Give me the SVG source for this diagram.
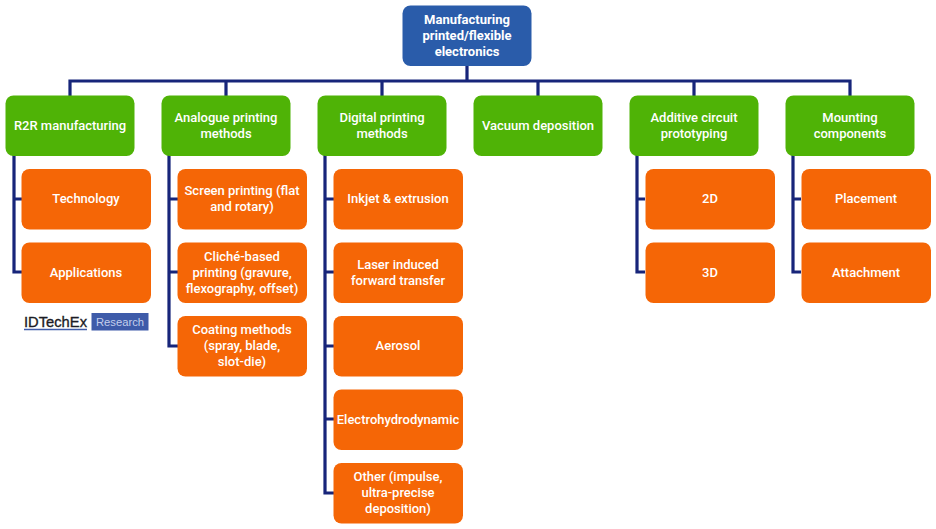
<svg xmlns="http://www.w3.org/2000/svg" width="936" height="529" viewBox="0 0 936 529">
<style>
.t{font-family:Roboto,"Liberation Sans",sans-serif;font-size:13px;font-weight:500;fill:#fff;text-anchor:middle}
.top rect{fill:#2a5caa}.top text{font-weight:700;font-size:13px}
.g rect{fill:#4fb306}.o rect{fill:#f56606}
#connectors path{fill:none;stroke:#17257a;stroke-width:3.200}
</style>
<rect width="936" height="529" fill="#fff"/>
<g id="connectors">
<path d="M467 65V81M70 96V81H850V96M226 81V96M382 81V96M538 81V96M694 81V96"/>
<path d="M14 155V272H22M14 199H22"/>
<path d="M169 155V346H178M169 199H178M169 272H178"/>
<path d="M325 155V493H334M325 199H334M325 272H334M325 346H334M325 419H334"/>
<path d="M637 155V272H645M637 199H645"/>
<path d="M793 155V272H801M793 199H801"/>
</g>
<g id="root" class="top"><rect x="402.500" y="5.500" width="129" height="60.500" rx="8"/><text class="t" x="467" y="24">Manufacturing</text><text class="t" x="467" y="40">printed/flexible</text><text class="t" x="467" y="56">electronics</text></g>
<g id="r2r" class="g"><rect x="5.500" y="95.500" width="129" height="60.500" rx="8"/><text class="t" x="70" y="130">R2R manufacturing</text></g>
<g id="analogue" class="g"><rect x="161.500" y="95.500" width="129" height="60.500" rx="8"/><text class="t" x="226" y="122">Analogue printing</text><text class="t" x="226" y="138">methods</text></g>
<g id="digital" class="g"><rect x="317.500" y="95.500" width="129" height="60.500" rx="8"/><text class="t" x="382" y="122">Digital printing</text><text class="t" x="382" y="138">methods</text></g>
<g id="vacuum" class="g"><rect x="473.500" y="95.500" width="129" height="60.500" rx="8"/><text class="t" x="538" y="130">Vacuum deposition</text></g>
<g id="additive" class="g"><rect x="629.500" y="95.500" width="129" height="60.500" rx="8"/><text class="t" x="694" y="122">Additive circuit</text><text class="t" x="694" y="138">prototyping</text></g>
<g id="mounting" class="g"><rect x="785.500" y="95.500" width="129" height="60.500" rx="8"/><text class="t" x="850" y="122">Mounting</text><text class="t" x="850" y="138">components</text></g>
<g id="technology" class="o"><rect x="21.500" y="169" width="129.500" height="60.500" rx="8"/><text class="t" x="86" y="203">Technology</text></g>
<g id="applications" class="o"><rect x="21.500" y="242.500" width="129.500" height="60.500" rx="8"/><text class="t" x="86" y="276.500">Applications</text></g>
<g id="screen" class="o"><rect x="177.500" y="169" width="129.500" height="60.500" rx="8"/><text class="t" x="242" y="195">Screen printing (flat</text><text class="t" x="242" y="211">and rotary)</text></g>
<g id="cliche" class="o"><rect x="177.500" y="242.500" width="129.500" height="60.500" rx="8"/><text class="t" x="242" y="260.500">Cliché-based</text><text class="t" x="242" y="276.500">printing (gravure,</text><text class="t" x="242" y="292.500">flexography, offset)</text></g>
<g id="coating" class="o"><rect x="177.500" y="316" width="129.500" height="60.500" rx="8"/><text class="t" x="242" y="334">Coating methods</text><text class="t" x="242" y="350">(spray, blade,</text><text class="t" x="242" y="366">slot-die)</text></g>
<g id="inkjet" class="o"><rect x="333.500" y="169" width="129.500" height="60.500" rx="8"/><text class="t" x="398" y="203">Inkjet &amp; extrusion</text></g>
<g id="laser" class="o"><rect x="333.500" y="242.500" width="129.500" height="60.500" rx="8"/><text class="t" x="398" y="268.500">Laser induced</text><text class="t" x="398" y="284.500">forward transfer</text></g>
<g id="aerosol" class="o"><rect x="333.500" y="316" width="129.500" height="60.500" rx="8"/><text class="t" x="398" y="350">Aerosol</text></g>
<g id="ehd" class="o"><rect x="333.500" y="389.500" width="129.500" height="60.500" rx="8"/><text class="t" x="398" y="423.500">Electrohydrodynamic</text></g>
<g id="other" class="o"><rect x="333.500" y="463" width="129.500" height="60.500" rx="8"/><text class="t" x="398" y="481">Other (impulse,</text><text class="t" x="398" y="497">ultra-precise</text><text class="t" x="398" y="513">deposition)</text></g>
<g id="d2" class="o"><rect x="645.500" y="169" width="129.500" height="60.500" rx="8"/><text class="t" x="710" y="203">2D</text></g>
<g id="d3" class="o"><rect x="645.500" y="242.500" width="129.500" height="60.500" rx="8"/><text class="t" x="710" y="276.500">3D</text></g>
<g id="placement" class="o"><rect x="801.500" y="169" width="129.500" height="60.500" rx="8"/><text class="t" x="866" y="203">Placement</text></g>
<g id="attachment" class="o"><rect x="801.500" y="242.500" width="129.500" height="60.500" rx="8"/><text class="t" x="866" y="276.500">Attachment</text></g>
<g id="logo">
<text x="24" y="326.500" font-family="'Liberation Sans',sans-serif" font-size="15.500" fill="#1c1c24" stroke="#1c1c24" stroke-width="0.350" textLength="63" lengthAdjust="spacingAndGlyphs">IDTechEx</text>
<path d="M24 329.500H87" stroke="#3e5ba9" stroke-width="1.500"/>
<rect x="91.500" y="313" width="57" height="17.500" fill="#3e5ba9"/>
<text x="120" y="326" font-family="'Liberation Sans',sans-serif" font-size="11.500" fill="#c4cfec" text-anchor="middle" textLength="48" lengthAdjust="spacingAndGlyphs">Research</text>
</g>
</svg>
